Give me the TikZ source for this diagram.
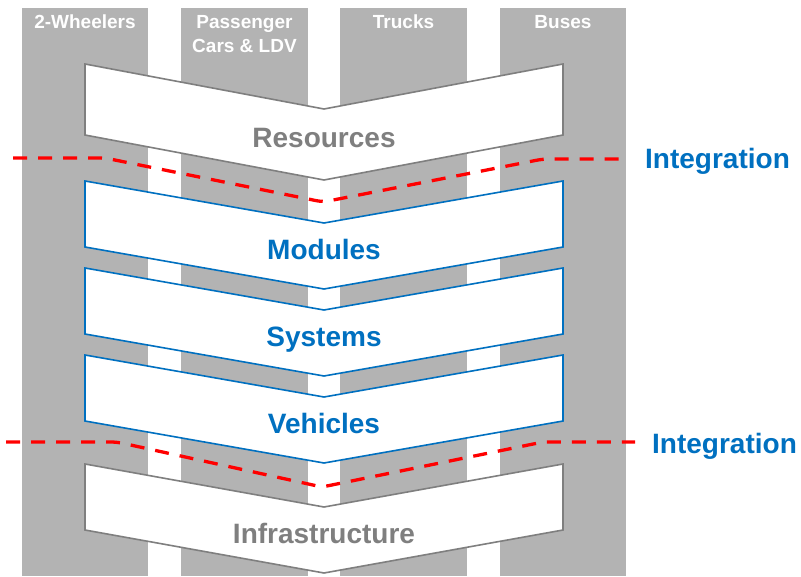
\documentclass[tikz,border=0pt]{standalone}
\usepackage{fontspec}
\setmainfont{Liberation Sans}
\usepackage{tikz}
\usetikzlibrary{positioning}
\definecolor{lanegray}{HTML}{B3B3B3}
\definecolor{edgegray}{HTML}{7F7F7F}
\definecolor{stageblue}{HTML}{0070C0}
\tikzstyle{lane} = [fill=lanegray]
\tikzstyle{outer}=[draw=edgegray, fill=white, line width=1.6pt]
\tikzstyle{inner}=[draw=stageblue, fill=white, line width=1.6pt]
\tikzstyle{cut}=[draw=red, line width=3.3pt, dash pattern=on 14pt off 11pt, rounded corners=6pt]
\tikzstyle{head}=[text=white, inner sep=0, anchor=north, align=center, font=\fontsize{19}{24}\selectfont\bfseries]
\tikzstyle{stage}=[inner sep=0, anchor=base, font=\fontsize{28}{32}\selectfont\bfseries]
% chevron: style, top edge, height, dip
\newcommand{\chevron}[4]{\draw[#1] (85,#2) -- (324,{#2+#4}) -- (563,#2) -- (563,{#2+#3}) -- (324,{#2+#3+#4}) -- (85,{#2+#3}) -- cycle;}

\begin{document}
\begin{tikzpicture}[x=1pt,y=-1pt]
	\useasboundingbox (0,0) rectangle (801,576);
	
	% vehicle lanes
	\fill[lane] (22,8) rectangle (148,576);
	\fill[lane] (181,8) rectangle (308,576);
	\fill[lane] (340,8) rectangle (467,576);
	\fill[lane] (500,8) rectangle (626,576);
	\node[head](tw) at (85,15) {2-Wheelers};
	\node[head](pc) at (244.5,15) {Passenger\\Cars \& LDV};
	\node[head](tr) at (403.5,15) {Trucks};
	\node[head](bu) at (563,15) {Buses};
	
	% value chain
	\chevron{outer}{64}{71}{45}
	\chevron{inner}{181}{66}{42}
	\chevron{inner}{268}{66}{42}
	\chevron{inner}{355}{66}{42}
	\chevron{outer}{464}{66}{43}
	
	\node[stage,text=edgegray](res) at (324,147) {Resources};
	\node[stage,text=stageblue](mod) at (324,259) {Modules};
	\node[stage,text=stageblue](sys) at (324,346) {Systems};
	\node[stage,text=stageblue](veh) at (324,433) {Vehicles};
	\node[stage,text=edgegray](infra) at (324,543) {Infrastructure};
	
	% integration borders
	\draw[cut] (13,158) -- (105,158) -- (323,202) -- (543,159) -- (629,159);
	\draw[cut] (6,442) -- (117,442) -- (322,487) -- (543,442) -- (635,442);
	\node[stage,anchor=base west,text=stageblue](int1) at (645,168) {Integration};
	\node[stage,anchor=base west,text=stageblue](int2) at (652,453) {Integration};
\end{tikzpicture}
\end{document}
